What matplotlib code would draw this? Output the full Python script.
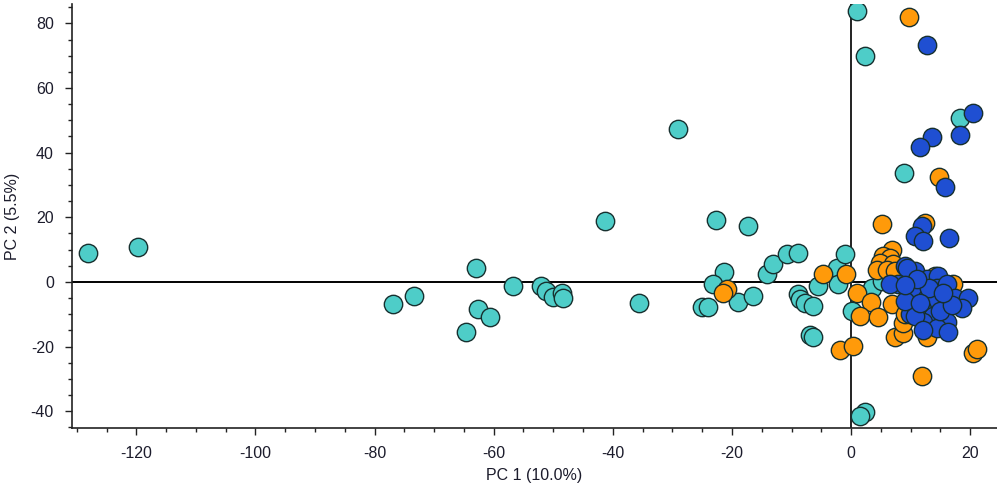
import matplotlib.pyplot as plt
from matplotlib.ticker import MultipleLocator

plt.rcParams['font.family'] = ['Liberation Sans', 'DejaVu Sans']
plt.rcParams['axes.unicode_minus'] = False

# group 1 (teal)
teal_x = [-128.1, -119.7, -76.9, -73.4, -64.6, -63.0, -62.6, -60.6, -56.8, -52.0,
          -51.2, -50.0, -48.5, -48.4, -41.3, -35.6, -29.0, -22.7, -17.3, -21.3,
          -23.2, -25.0, -24.0, -19.0, -16.5, -14.1, -13.1, -10.7, -8.9, -8.9,
          -8.6, -7.7, -6.4, -6.9, -6.4, -5.5, -2.4, -2.2, -1.0, 0.2,
          3.5, 5.2, 1.0, 2.4, 8.9, 18.3, 2.35, 1.5]
teal_y = [9.0, 10.8, -6.7, -4.3, -15.6, 4.2, -8.5, -11.0, -1.2, -1.2,
          -2.7, -4.6, -3.4, -4.9, 18.9, -6.4, 47.4, 19.2, 17.3, 3.1,
          -0.6, -7.9, -7.9, -6.1, -4.3, 2.4, 5.5, 8.6, 8.9, -3.7,
          -5.2, -6.4, -7.3, -16.5, -17.1, -1.2, 4.3, -0.6, 8.6, -8.9,
          -1.8, 0.3, 83.9, 70.0, 33.7, 50.8, -40.3, -41.5]

# group 2 (orange)
orange_x = [-20.8, -21.5, -4.7, -0.8, 1.0, 3.4, 6.9, 1.5, 4.5, 7.4,
            8.7, 12.8, -1.8, 0.3, 11.9, 20.5, 21.2, 9.7, 14.8, 5.2,
            12.4, 6.9, 5.4, 6.5, 4.9, 4.4, 7.1, 6.0, 7.4, 17.1,
            14.1, 8.7, 9.1]
orange_y = [-2.1, -3.4, 2.4, 2.4, -3.4, -6.1, -6.7, -10.4, -11.0, -17.1,
            -15.9, -17.1, -21.0, -19.8, -29.1, -22.0, -20.8, 82.0, 32.5, 18.0,
            18.3, 9.8, 8.1, 7.4, 5.9, 3.8, 5.6, 3.8, 3.5, -0.6,
            1.8, -12.8, -10.0]

# group 3 (blue)
blue_x = [12.8, 20.5, 18.3, 13.6, 11.6, 15.8, 11.9, 10.7, 12.1, 16.5,
          9.1, 10.7, 9.4, 7.9, 6.5, 10.2, 12.8, 14.6, 14.4, 16.1,
          12.8, 14.1, 17.5, 19.6, 18.6, 9.9, 11.9, 13.8, 16.1, 12.1,
          14.4, 16.3, 10.7, 15.0, 13.0, 17.0, 11.0, 12.0, 15.5, 9.0,
          9.1, 11.5]
blue_y = [73.4, 52.3, 45.5, 44.9, 41.8, 29.4, 17.4, 14.2, 12.8, 13.6,
          5.0, 3.5, 4.4, -0.6, -0.6, -3.4, 1.0, 1.9, -1.8, -0.6,
          -4.9, -5.8, -4.9, -4.9, -8.2, -9.8, -8.5, -10.4, -12.5, -12.5,
          -14.4, -15.6, -10.4, -9.0, -2.0, -7.0, 1.0, -15.0, -3.5, -6.0,
          -1.0, -6.5]

fig = plt.figure(figsize=(9.97, 4.90), dpi=100)
ax = fig.add_axes([72 / 997, 62 / 490, 1 - 72 / 997, 1 - 62 / 490 - 4 / 490])

ax.axhline(0, color='black', lw=1.4, zorder=1)
ax.axvline(0, color='#222222', lw=1.4, zorder=1)

kw = dict(s=175, edgecolors='#17302f', linewidths=1.0, zorder=3)
ax.scatter(teal_x, teal_y, c='#4ecdc8', **kw)
ax.scatter(orange_x, orange_y, c='#ff9a0a', **kw)
ax.scatter(blue_x, blue_y, c='#1f4fd2', **kw)

ax.set_xlim(-130.8, 24.5)
ax.set_ylim(-45.2, 86.0)
ax.xaxis.set_major_locator(MultipleLocator(20))
ax.xaxis.set_minor_locator(MultipleLocator(5))
ax.yaxis.set_major_locator(MultipleLocator(20))
ax.yaxis.set_minor_locator(MultipleLocator(5))
ax.tick_params(which='major', direction='out', length=5, width=1, colors='#222222',
               labelsize=11.5, labelcolor='#1c1c2c', pad=8)
ax.tick_params(which='minor', direction='out', length=3, width=1, colors='#222222')

for s in ['top', 'right']:
    ax.spines[s].set_visible(False)
for s in ['left', 'bottom']:
    ax.spines[s].set_color('#222222')
    ax.spines[s].set_linewidth(1.2)

ax.set_xlabel('PC 1 (10.0%)', fontsize=11.5, color='#1c1c2c', labelpad=5)
ax.set_ylabel('PC 2 (5.5%)', fontsize=11.5, color='#1c1c2c', labelpad=8)

fig.savefig('out.png', dpi=100)
